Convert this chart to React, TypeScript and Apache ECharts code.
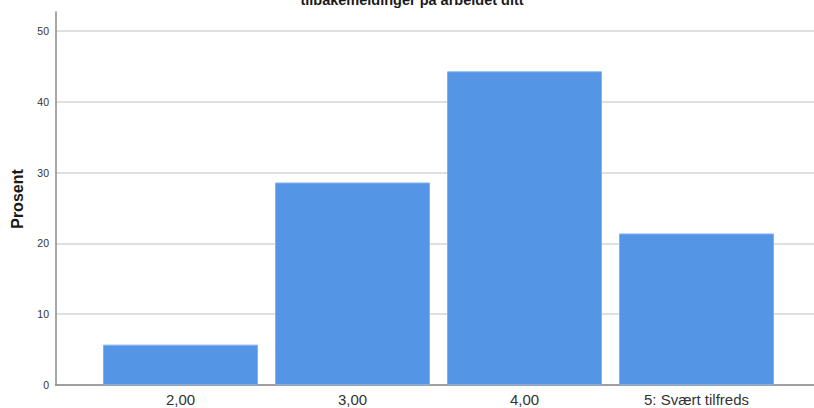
import React, { useEffect, useRef } from "react";
import * as echarts from "echarts";

const title = "tilbakemeldinger på arbeidet ditt";
const yAxisTitle = "Prosent";
const categories = ["2,00", "3,00", "4,00", "5: Svært tilfreds"];
const percentValues = [5.7, 28.6, 44.3, 21.4];
const yTicks = [0, 10, 20, 30, 40, 50];

const FONT = "'Liberation Sans', Arial, sans-serif";

export default function App() {
  const ref = useRef<HTMLDivElement>(null);
  useEffect(() => {
    if (!ref.current) return;
    const chart = echarts.init(ref.current, undefined, { renderer: "svg" });
    const yMax = yTicks[yTicks.length - 1];
    chart.setOption({
      animation: false,
      backgroundColor: "#ffffff",
      textStyle: { fontFamily: FONT },
      grid: [
        { left: 55.5, right: 0, top: 12, bottom: 23 },
        { left: 56, right: 0, top: 31, bottom: 23 },
        { left: 94.5, right: 31.5, top: 31, bottom: 23 },
      ],
      xAxis: [
        {
          gridIndex: 0,
          type: "value",
          min: 0,
          max: 1,
          axisLine: { show: true, onZero: false, lineStyle: { color: "#8a8a8a", width: 1.5 } },
          axisTick: { show: false },
          axisLabel: { show: false },
          splitLine: { show: false },
        },
        {
          gridIndex: 1,
          type: "value",
          min: 0,
          max: 1,
          show: false,
        },
        {
          gridIndex: 2,
          type: "category",
          data: categories,
          axisLine: { show: false },
          axisTick: { show: false },
          axisLabel: { color: "#333333", fontSize: 15, margin: 7, fontFamily: FONT },
        },
      ],
      yAxis: [
        {
          gridIndex: 0,
          type: "value",
          min: 0,
          max: 1,
          axisLine: { show: true, onZero: false, lineStyle: { color: "#8a8a8a", width: 1.5 } },
          axisTick: { show: false },
          axisLabel: { show: false },
          splitLine: { show: false },
        },
        {
          gridIndex: 1,
          type: "value",
          min: 0,
          max: yMax,
          interval: 10,
          axisLine: { show: false },
          axisTick: { show: false },
          axisLabel: { color: "#333333", fontSize: 10.5, margin: 7, fontFamily: FONT },
          splitLine: { show: true, lineStyle: { color: "#d4d4d4", width: 1.5 } },
        },
        {
          gridIndex: 2,
          type: "value",
          min: 0,
          max: yMax,
          interval: 10,
          show: false,
          splitLine: { show: false },
        },
      ],
      series: [
        {
          type: "bar",
          xAxisIndex: 2,
          yAxisIndex: 2,
          data: percentValues,
          barWidth: 155,
          itemStyle: { color: "#5595e5", borderColor: "#80b1ee", borderWidth: 1 },
          z: 5,
        },
      ],
      graphic: [
        {
          type: "text",
          x: 412,
          y: -0.5,
          style: {
            text: title,
            fontFamily: FONT,
            fontSize: 14.5,
            fontWeight: "bold",
            fill: "#1a1a1a",
            align: "center",
            verticalAlign: "middle",
          },
        },
        {
          type: "text",
          x: 17,
          y: 199,
          rotation: Math.PI / 2,
          style: {
            text: yAxisTitle,
            fontFamily: FONT,
            fontSize: 16,
            fontWeight: "bold",
            fill: "#1a1a1a",
            align: "center",
            verticalAlign: "middle",
          },
        },
      ],
    });
    return () => chart.dispose();
  }, []);
  return (
    <div
      ref={ref}
      style={{ position: "absolute", left: 0, top: 0, width: 814, height: 408 }}
    />
  );
}
